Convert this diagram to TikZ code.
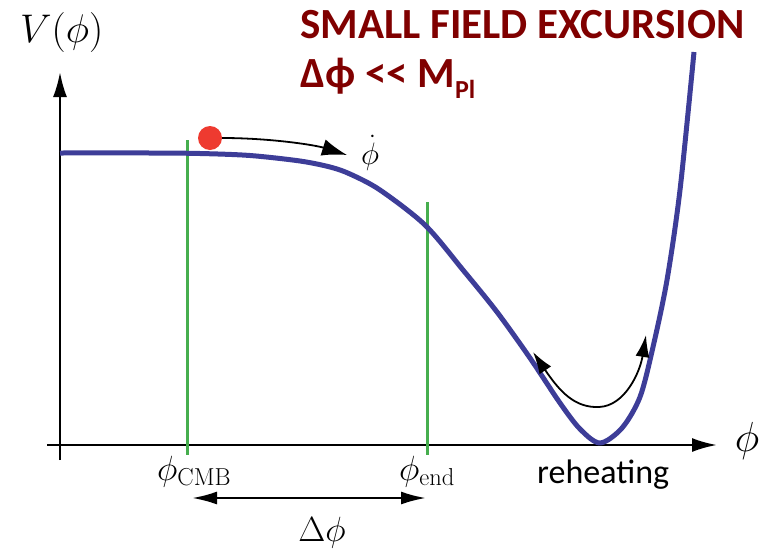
\RequirePackage{fix-cm}
\documentclass[tikz,border=0pt]{standalone}
\usepackage{amsmath}
\usepackage{fontspec}
\usetikzlibrary{arrows.meta}
\newfontfamily\calib{Carlito}
\definecolor{potBlue}{HTML}{3D3D98}
\definecolor{cutGreen}{HTML}{46AE4E}
\definecolor{titleRed}{HTML}{800000}
\definecolor{ballRed}{HTML}{EE3A30}
\newcommand{\subtxt}[1]{\text{\fontsize{24.5}{26}\selectfont #1}}

\tikzset{
  axis/.style={line width=2.4pt, -{Latex[length=25pt,width=14pt]}},
  cut/.style={cutGreen, line width=3pt},
  flow/.style={line width=1.8pt},
  big/.style={inner sep=0pt, font=\fontsize{40}{44}\selectfont},
  mid/.style={inner sep=0pt, font=\fontsize{35}{38}\selectfont},
  headline/.style={inner sep=0pt, anchor=base west, text=titleRed, font=\calib\bfseries\fontsize{43}{46}\selectfont},
}

\begin{document}
\begin{tikzpicture}[x=1pt, y=-1pt]
\useasboundingbox (0,0) rectangle (768,549);

% axes
\coordinate (ybot) at (60,460);
\coordinate (ytop) at (60,72);
\coordinate (xbeg) at (47,445);
\coordinate (xtop) at (717,445);
\draw[axis] (ybot) -- (ytop);
\draw[axis] (xbeg) -- (xtop);

\node[big, anchor=base west] (vlab) at (20,42) {$V(\phi)$};
\node[inner sep=0pt, font=\fontsize{42}{46}\selectfont] (philab) at (747,441) {$\phi$};

% field values
\coordinate (cmbtop) at (187,140);
\coordinate (cmbbot) at (187,455);
\coordinate (endtop) at (427,202);
\coordinate (endbot) at (427,455);
\draw[cut] (cmbtop) -- (cmbbot);
\draw[cut] (endtop) -- (endbot);

% potential
\draw[potBlue, line width=5pt, line join=round] plot[smooth, tension=0.5] coordinates {
  (60,153) (150,153) (200,153.5) (250,155.5) (300,161) (330,167) (350,174)
  (380,190) (425,225) (463,270) (497,312) (530,358) (560,403) (580,429)
  (600,443) (622,428) (640,397) (653,347) (667,280) (680,190) (694,52)};

% inflaton
\node[circle, fill=ballRed, minimum size=24pt, inner sep=0pt] (ball) at (210,138) {};
\coordinate (veltip) at (347,155);
\draw[flow, -{Latex[length=25pt,width=17pt]}] (ball.east) .. controls (270,138) and (315,145) .. (veltip);
\node[inner sep=0pt, anchor=base, font=\fontsize{31}{34}\selectfont] (dotphi) at (370,164) {$\dot\phi$};

% oscillation
\coordinate (oscl) at (533,352);
\coordinate (oscm) at (599,407);
\coordinate (oscr) at (646,335);
\draw[flow, {Latex[length=22pt,width=14pt]}-{Latex[length=22pt,width=14pt]}]
  (oscl) .. controls (560,392) and (575,408) .. (oscm)
  .. controls (625,406) and (640,372) .. (oscr);

% labels below axis
\node[mid, anchor=base west] (cmblab) at (157,480) {$\phi_{\subtxt{CMB}}$};
\node[mid, anchor=base west] (endlab) at (399,480) {$\phi_{\subtxt{end}}$};
\node[inner sep=0pt, anchor=base west, font=\calib\fontsize{34}{38}\selectfont] (reheat) at (537,483) {reheating};

\coordinate (dl) at (192,498);
\coordinate (dr) at (426,498);
\draw[line width=2.4pt, {Latex[length=25pt,width=13pt]}-{Latex[length=25pt,width=13pt]}] (dl) -- (dr);
\node[mid, anchor=base] (dlab) at (322,541) {$\Delta\phi$};

% title
\node[headline] (title) at (300,38) {SMALL FIELD EXCURSION};
\node[headline] (cond) at (300,87)
  {Δϕ {<}{<} M\raisebox{-11pt}{\fontsize{26}{28}\selectfont Pl}};
\end{tikzpicture}
\end{document}
